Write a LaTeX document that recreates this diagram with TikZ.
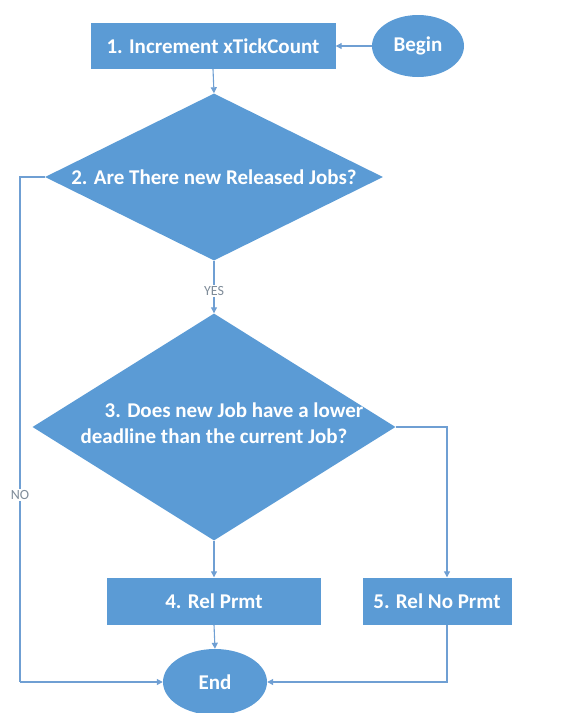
\documentclass[tikz,border=0pt]{standalone}
\usepackage{fontspec}
\setmainfont{Carlito}
\usetikzlibrary{shapes.geometric,arrows.meta}
\definecolor{flowblue}{HTML}{5B9BD5}
\definecolor{linkblue}{HTML}{6F9FD3}
\definecolor{tagtext}{HTML}{7F8C99}
\tikzset{
  stepbox/.style={rectangle, fill=flowblue, draw=none, inner sep=0pt},
  termnode/.style={ellipse, fill=flowblue, draw=none, inner sep=0pt},
  decision/.style={diamond, fill=flowblue, draw=none, inner sep=0pt},
  boxtext/.style={text=white, font=\fontsize{21}{26}\selectfont\bfseries, inner sep=0pt},
  conn/.style={draw=linkblue, line width=1.1pt, -{Triangle[length=6pt,width=6pt]}},
  plain/.style={draw=linkblue, line width=1.1pt},
  lbl/.style={fill=white, text=tagtext, font=\fontsize{14}{16}\selectfont, inner sep=1.5pt}
}
\begin{document}
\begin{tikzpicture}[x=1pt,y=-1pt]
  \useasboundingbox (0,0) rectangle (568,713);

  % shapes
  \node[stepbox, minimum width=245pt, minimum height=46pt] (b1) at (213,46) {};
  \node[termnode, minimum width=92pt, minimum height=62pt] (start) at (418,46) {};
  \node[decision, minimum width=338pt, minimum height=167pt] (d2) at (214,177) {};
  \node[decision, minimum width=363pt, minimum height=227pt] (d3) at (214,427) {};
  \node[stepbox, minimum width=214pt, minimum height=47pt] (b4) at (214,601) {};
  \node[stepbox, minimum width=149pt, minimum height=47pt] (b5) at (437,601) {};
  \node[termnode, minimum width=104pt, minimum height=66pt] (fin) at (215,682) {};

  % labels inside shapes
  \node[boxtext] (t1) at (b1.center) {1. Increment xTickCount};
  \node[boxtext] (tb) at (start.center) {Begin};
  \node[boxtext] (t2) at (d2.center) {2. Are There new Released Jobs?};
  \node[boxtext, align=center] (t3) at ([yshift=4pt]d3.center)
    {\hspace*{40pt}3. Does new Job have a lower\\deadline than the current Job?};
  \node[boxtext] (t4) at (b4.center) {4. Rel Prmt};
  \node[boxtext] (t5) at (b5.center) {5. Rel No Prmt};
  \node[boxtext] (te) at (fin.center) {End};

  % routing columns
  \coordinate (noX) at (20,0);
  \coordinate (rX) at (447,0);

  % connectors
  \draw[conn] (start.west) -- (b1.east);
  \draw[conn] (b1.south) -- (d2.north);
  \draw[conn] (d2.south) -- node[lbl, pos=0.57] {YES} (d3.north);
  \draw[plain] (d2.west) -- (d2.west -| noX) -- node[lbl, pos=0.63] {NO} (fin.west -| noX);
  \draw[conn] (fin.west -| noX) -- (fin.west);
  \draw[conn] (d3.south) -- (b4.north);
  \draw[conn] (b4.south) -- (fin.north);
  \draw[conn] (d3.east) -- (d3.east -| rX) -- (b5.north -| rX);
  \draw[conn] (b5.south -| rX) -- (fin.east -| rX) -- (fin.east);
\end{tikzpicture}
\end{document}
